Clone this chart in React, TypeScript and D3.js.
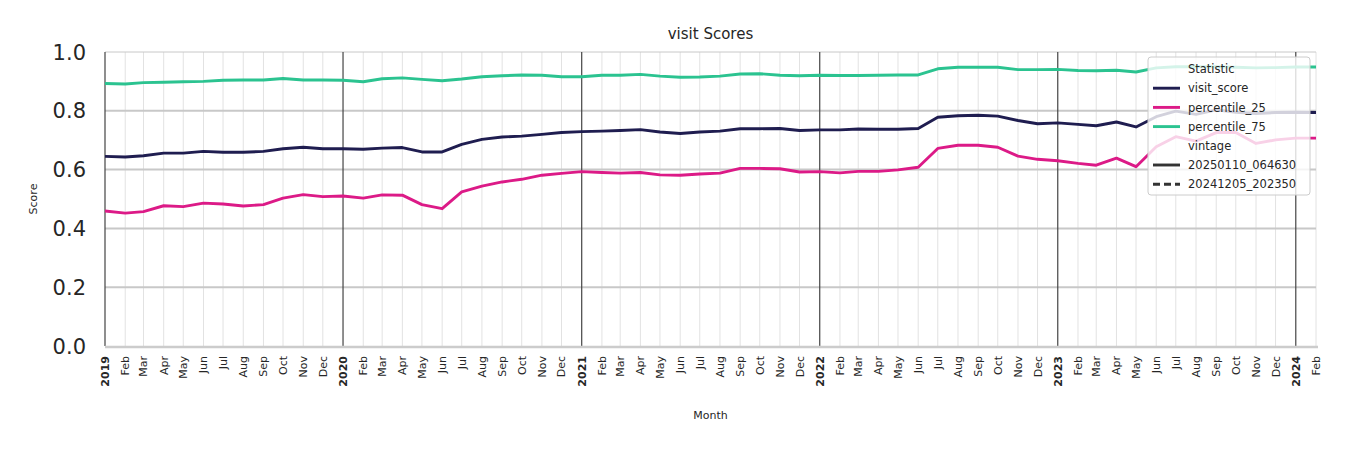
import React, { useEffect, useRef } from 'react'
import * as d3 from 'd3'

// monthly values, Jan 2019 .. Feb 2024
const visitScore = [
  0.645, 0.643, 0.647, 0.656, 0.656, 0.662, 0.659, 0.659, 0.662, 0.671, 0.676, 0.671,
  0.671, 0.669, 0.673, 0.675, 0.660, 0.660, 0.686, 0.703, 0.711, 0.714, 0.720, 0.726,
  0.729, 0.731, 0.733, 0.736, 0.728, 0.723, 0.728, 0.731, 0.739, 0.739, 0.740, 0.733,
  0.735, 0.735, 0.738, 0.737, 0.737, 0.740, 0.778, 0.783, 0.785, 0.782, 0.767, 0.756,
  0.759, 0.754, 0.749, 0.762, 0.745, 0.780, 0.799, 0.788, 0.803, 0.795, 0.791, 0.794,
  0.795, 0.794,
]
const percentile25 = [
  0.459, 0.452, 0.457, 0.477, 0.474, 0.486, 0.483, 0.476, 0.481, 0.503, 0.515, 0.508,
  0.510, 0.503, 0.514, 0.513, 0.481, 0.467, 0.524, 0.544, 0.558, 0.567, 0.581, 0.587,
  0.593, 0.590, 0.588, 0.590, 0.582, 0.581, 0.585, 0.588, 0.604, 0.604, 0.603, 0.592,
  0.593, 0.589, 0.594, 0.594, 0.599, 0.608, 0.672, 0.683, 0.683, 0.676, 0.646, 0.635,
  0.630, 0.621, 0.615, 0.639, 0.610, 0.678, 0.712, 0.697, 0.726, 0.726, 0.689, 0.701,
  0.707, 0.707,
]
const percentile75 = [
  0.893, 0.891, 0.896, 0.897, 0.899, 0.900, 0.904, 0.905, 0.905, 0.910, 0.905, 0.905,
  0.904, 0.899, 0.909, 0.912, 0.907, 0.902, 0.908, 0.916, 0.919, 0.922, 0.921, 0.916,
  0.916, 0.921, 0.921, 0.924, 0.918, 0.914, 0.915, 0.918, 0.925, 0.926, 0.921, 0.919,
  0.921, 0.920, 0.920, 0.921, 0.922, 0.922, 0.943, 0.948, 0.948, 0.948, 0.940, 0.940,
  0.941, 0.937, 0.936, 0.938, 0.932, 0.946, 0.950, 0.950, 0.950, 0.948, 0.946, 0.947,
  0.949, 0.949,
]
const yTicks = [0, 0.2, 0.4, 0.6, 0.8, 1.0]
const vintages = ['20250110_064630', '20241205_202350']

const series = [
  { name: 'visit_score', values: visitScore, color: '#1f1d50' },
  { name: 'percentile_25', values: percentile25, color: '#dc1a87' },
  { name: 'percentile_75', values: percentile75, color: '#2bc390' },
]

const start = new Date(2019, 0, 1)
const end = new Date(2024, 1, 1)
const months = d3.timeMonth.range(start, d3.timeMonth.offset(end, 1))

const font = 'DejaVu Sans, sans-serif'

const App: React.FC = () => {
  const svgRef = useRef<SVGSVGElement>(null)

  useEffect(() => {
    if (!svgRef.current) return
    const svg = d3.select(svgRef.current)
    svg.selectAll('*').remove()

    const left = 105, right = 1316, top = 52, bottom = 346

    const x = d3.scaleTime().domain([start, end]).range([left, right])
    const y = d3.scaleLinear().domain([0, 1]).range([bottom, top])

    // monthly minor grid
    svg.append('g')
      .selectAll('line')
      .data(months.filter(m => m.getMonth() !== 0))
      .join('line')
      .attr('x1', d => x(d)).attr('x2', d => x(d))
      .attr('y1', top).attr('y2', bottom)
      .attr('stroke', '#e2e2e2').attr('stroke-width', 1)

    // horizontal grid
    svg.append('g')
      .selectAll('line')
      .data(yTicks.filter(t => t > 0))
      .join('line')
      .attr('x1', left).attr('x2', right)
      .attr('y1', d => y(d)).attr('y2', d => y(d))
      .attr('stroke', '#c8c8c8').attr('stroke-width', d => d === 1 ? 1 : 2)

    // yearly lines
    svg.append('g')
      .selectAll('line')
      .data(months.filter(m => m.getMonth() === 0))
      .join('line')
      .attr('x1', d => x(d)).attr('x2', d => x(d))
      .attr('y1', top).attr('y2', bottom)
      .attr('stroke', '#444').attr('stroke-width', 1.2)

    // bottom spine
    svg.append('line')
      .attr('x1', left).attr('x2', right + 2)
      .attr('y1', bottom + 1).attr('y2', bottom + 1)
      .attr('stroke', '#cccccc').attr('stroke-width', 2.5)

    // lines
    const line = d3.line<number>()
      .x((_, i) => x(months[i]))
      .y(d => y(d))
    series.forEach(s => {
      svg.append('path')
        .datum(s.values)
        .attr('d', line)
        .attr('fill', 'none')
        .attr('stroke', s.color)
        .attr('stroke-width', 2.9)
        .attr('stroke-linejoin', 'round')
    })

    // y ticks
    svg.append('g')
      .selectAll('text')
      .data(yTicks)
      .join('text')
      .attr('x', 86).attr('y', d => y(d))
      .attr('dy', '0.36em')
      .attr('text-anchor', 'end')
      .attr('font-family', font).attr('font-size', 21)
      .attr('fill', '#262626')
      .text(d => d.toFixed(1))

    // x ticks
    svg.append('g')
      .selectAll('text')
      .data(months)
      .join('text')
      .attr('transform', d => `translate(${x(d) + 4},356) rotate(-90)`)
      .attr('text-anchor', 'end')
      .attr('font-family', font).attr('font-size', 11)
      .attr('font-weight', d => d.getMonth() === 0 ? 'bold' : 'normal')
      .attr('fill', '#262626')
      .text(d => d.getMonth() === 0 ? d3.timeFormat('%Y')(d) : d3.timeFormat('%b')(d))

    // titles
    svg.append('text')
      .attr('x', (left + right) / 2).attr('y', 39)
      .attr('text-anchor', 'middle')
      .attr('font-family', font).attr('font-size', 15)
      .attr('fill', '#262626')
      .text('visit Scores')
    svg.append('text')
      .attr('x', (left + right) / 2).attr('y', 419)
      .attr('text-anchor', 'middle')
      .attr('font-family', font).attr('font-size', 11)
      .attr('fill', '#262626')
      .text('Month')
    svg.append('text')
      .attr('transform', `translate(37,${(top + bottom) / 2}) rotate(-90)`)
      .attr('text-anchor', 'middle')
      .attr('font-family', font).attr('font-size', 11)
      .attr('fill', '#262626')
      .text('Score')

    // legend
    const lg = svg.append('g').attr('transform', 'translate(1148,57)')
    lg.append('rect')
      .attr('x', 0).attr('y', 0).attr('width', 162).attr('height', 138)
      .attr('rx', 3)
      .attr('fill', 'white').attr('fill-opacity', 0.8)
      .attr('stroke', '#cccccc').attr('stroke-width', 1)
    const rows: { label: string, color?: string, dash?: string }[] = [
      { label: 'Statistic' },
      ...series.map(s => ({ label: s.name, color: s.color })),
      { label: 'vintage' },
      { label: vintages[0], color: '#333333' },
      { label: vintages[1], color: '#333333', dash: '7,4' },
    ]
    rows.forEach((r, i) => {
      const ry = 12 + i * 19.2
      if (r.color) {
        lg.append('line')
          .attr('x1', 5).attr('x2', 32).attr('y1', ry).attr('y2', ry)
          .attr('stroke', r.color).attr('stroke-width', 2.9)
          .attr('stroke-dasharray', r.dash ?? null)
      }
      lg.append('text')
        .attr('x', 40).attr('y', ry).attr('dy', '0.36em')
        .attr('font-family', font).attr('font-size', 11.5)
        .attr('fill', '#262626')
        .text(r.label)
    })
  }, [])

  return (
    <svg ref={svgRef} width={1350} height={450}
      style={{ position: 'absolute', left: 0, top: 0, background: 'white' }} />
  )
}

export default App
